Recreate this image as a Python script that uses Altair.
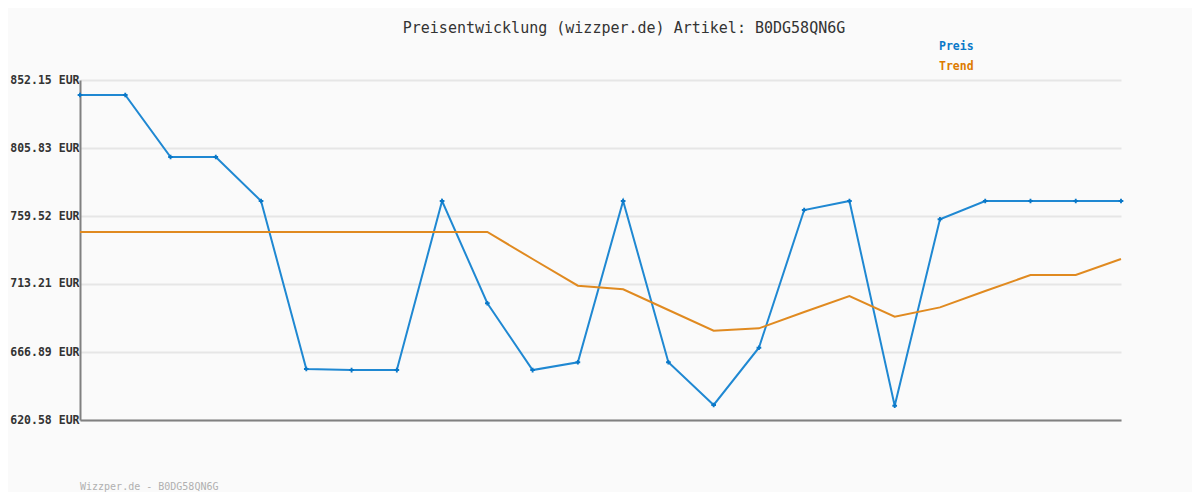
import altair as alt
import pandas as pd

# --- data ---
idx = list(range(24))
preis = [841.93, 841.93, 799.70, 799.70, 769.74, 655.30, 654.60, 654.60,
         769.74, 700.10, 654.60, 659.90, 769.74, 659.90, 630.80, 669.80,
         763.60, 769.74, 630.30, 757.30, 769.74, 769.74, 769.74, 769.74]
trend = [748.62, 748.62, 748.62, 748.62, 748.62, 748.62, 748.62, 748.62,
         748.62, 748.62, 730.23, 712.05, 709.60, 695.50, 681.40, 683.00,
         694.10, 705.00, 690.90, 697.30, 708.40, 719.30, 719.30, 730.20]
y_ticks = [620.58, 666.89, 713.21, 759.52, 805.83, 852.15]
series_names = ["Preis", "Trend"]
series_colors = ["#1f88d2", "#e08a20"]
legend_colors = ["#0a78c8", "#dd7a00"]
title_text = "Preisentwicklung (wizzper.de) Artikel: B0DG58QN6G"
footer_text = "Wizzper.de - B0DG58QN6G"

df = pd.DataFrame({
    "i": idx * 2,
    "v": preis + trend,
    "s": ["Preis"] * len(idx) + ["Trend"] * len(idx),
})

mono = "DejaVu Sans Mono"
W, H = 1041, 340

x = alt.X("i:Q", scale=alt.Scale(domain=[0, 23], nice=False, zero=False),
          axis=alt.Axis(labels=False, ticks=False, grid=False, title=None,
                        domainColor="#808080", domainWidth=2))
y = alt.Y("v:Q", scale=alt.Scale(domain=[y_ticks[0], y_ticks[-1]], nice=False, zero=False),
          axis=alt.Axis(values=y_ticks, labelExpr="format(datum.value, '.2f') + ' EUR'",
                        title=None, ticks=False, labelPadding=1,
                        labelFont=mono, labelFontSize=11.5, labelFontWeight="bold",
                        labelColor="#333333", gridColor="#e6e6e6", gridWidth=2,
                        domainColor="#808080", domainWidth=2))
color = alt.Color("s:N", scale=alt.Scale(domain=series_names, range=series_colors), legend=None)

lines = alt.Chart(df).mark_line(strokeWidth=2).encode(x=x, y=y, color=color)
pts = alt.Chart(df[df.s == "Preis"]).mark_point(shape="cross", filled=True, size=22, opacity=1).encode(
    x="i:Q", y="v:Q", color=alt.value(legend_colors[0]))

title = alt.Chart(pd.DataFrame({"t": [title_text]})).mark_text(
    font=mono, fontSize=15, color="#333333", align="center", baseline="middle"
).encode(text="t:N", x=alt.value(544), y=alt.value(-52))

leg_preis = alt.Chart(pd.DataFrame({"t": [series_names[0]]})).mark_text(
    font=mono, fontSize=11.5, fontWeight="bold", align="left", baseline="middle",
    color=legend_colors[0]
).encode(text="t:N", x=alt.value(859), y=alt.value(-33))
leg_trend = alt.Chart(pd.DataFrame({"t": [series_names[1]]})).mark_text(
    font=mono, fontSize=11.5, fontWeight="bold", align="left", baseline="middle",
    color=legend_colors[1]
).encode(text="t:N", x=alt.value(859), y=alt.value(-13))

footer = alt.Chart(pd.DataFrame({"t": [footer_text]})).mark_text(
    font=mono, fontSize=10, color="#b0b0b0", align="left", baseline="middle"
).encode(text="t:N", x=alt.value(0), y=alt.value(407))

chart = alt.layer(lines, pts, title, leg_preis, leg_trend, footer).properties(
    width=W, height=H,
    autosize=alt.AutoSizeParams(type="none"),
    padding={"left": 72, "top": 72, "right": 71, "bottom": 72},
    background="#fafafa",
).configure_view(stroke=None)

chart.save("out.html", embed_options={"renderer": "svg", "actions": False})
